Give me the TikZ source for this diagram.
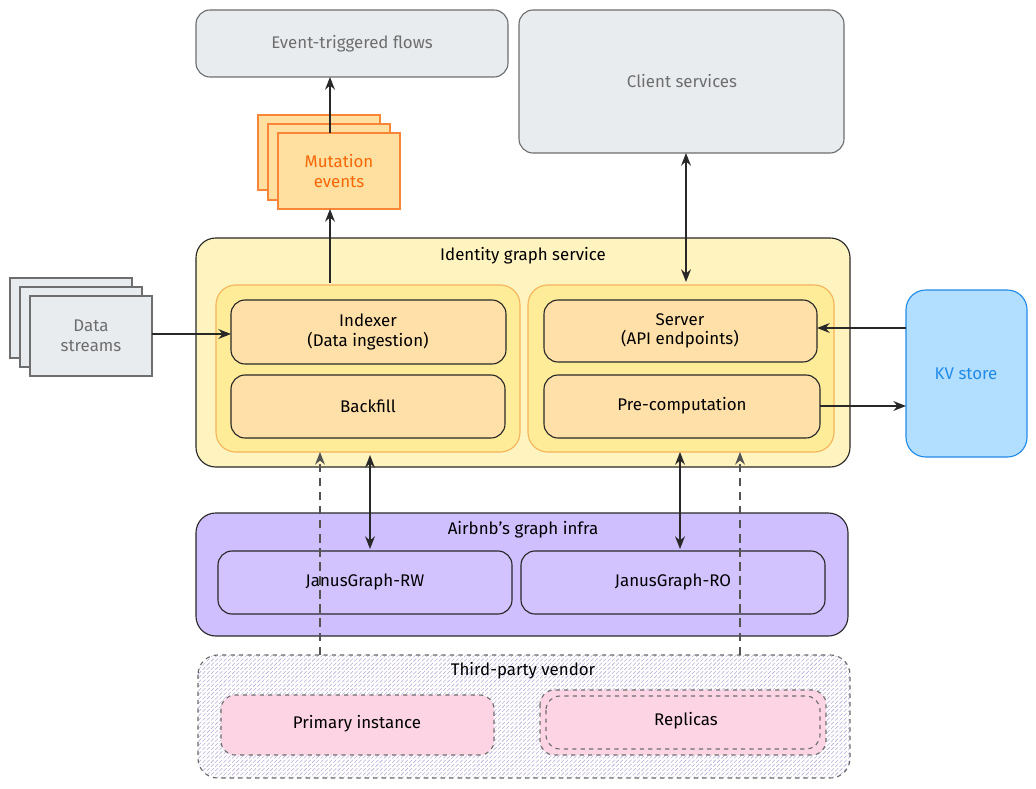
\documentclass[tikz,border=0pt]{standalone}
\usepackage{fontspec}
\setmainfont{Fira Sans}
\usetikzlibrary{positioning, patterns, arrows.meta}
\definecolor{boxgray}{RGB}{233,236,239}
\definecolor{textgray}{RGB}{110,110,110}
\definecolor{mutfill}{RGB}{255,224,160}
\definecolor{mutdraw}{RGB}{247,103,7}
\definecolor{svcfill}{RGB}{255,243,191}
\definecolor{grpfill}{RGB}{255,236,153}
\definecolor{grpdraw}{RGB}{245,180,90}
\definecolor{compfill}{RGB}{255,224,168}
\definecolor{kvfill}{RGB}{178,222,255}
\definecolor{kvdraw}{RGB}{34,139,230}
\definecolor{infrafill}{RGB}{208,191,255}
\definecolor{janfill}{RGB}{210,195,255}
\definecolor{vendfill}{RGB}{252,194,215}
\definecolor{darkline}{RGB}{40,40,40}
\begin{document}
\begin{tikzpicture}[
    x=0.025cm, y=-0.025cm,
    font=\large,
    gray box/.style={draw=textgray, fill=boxgray, thick, rounded corners=10pt, text=textgray},
    paper/.style={draw=textgray, fill=boxgray, thick},
    mutpaper/.style={draw=mutdraw!80, fill=mutfill, thick},
    service/.style={draw=darkline, fill=svcfill, thick, rounded corners=14pt},
    group/.style={draw=grpdraw, fill=grpfill, thick, rounded corners=14pt},
    comp/.style={draw=darkline, fill=compfill, thick, rounded corners=10pt, align=center},
    infra/.style={draw=darkline, fill=infrafill, thick, rounded corners=14pt},
    janus/.style={draw=darkline, fill=janfill, thick, rounded corners=10pt},
    vendor/.style={draw=darkline!70, dashed, thick, rounded corners=14pt, pattern=north east lines, pattern color=infrafill!70!gray},
    inst/.style={draw=textgray, dashed, fill=vendfill!70, thick, rounded corners=10pt},
    arrow/.style={-{Stealth[length=9pt,width=7pt]}, semithick, line width=1pt, darkline},
    both/.style={{Stealth[length=9pt,width=7pt]}-{Stealth[length=9pt,width=7pt]}, line width=1pt, darkline},
    dasharrow/.style={-{Stealth[length=9pt,width=7pt]}, line width=0.8pt, dash pattern=on 6pt off 4pt, darkline!80}
]
    \useasboundingbox (0,0) rectangle (1036,788);

    % Top boxes
    \draw[gray box] (196,10) rectangle (508,77);
    \node[text=textgray] (event) at (352,44) {Event-triggered flows};
    \coordinate (eventb) at (330,77);
    \draw[gray box] (519,10) rectangle (844,153);
    \node[text=textgray] (client) at (682,81) {Client services};
    \coordinate (clientb) at (686,153);

    % Mutation events
    \draw[mutpaper] (258,115) rectangle (380,190);
    \draw[mutpaper] (268,124) rectangle (390,200);
    \draw[mutpaper] (278,133) rectangle (400,209);
    \node[text=mutdraw, align=center] (mut) at (339,171) {Mutation\\events};
    \coordinate (mutt) at (330,133);
    \coordinate (mutb) at (330,209);

    % Data streams
    \draw[paper] (10,278) rectangle (132,358);
    \draw[paper] (20,287) rectangle (142,367);
    \draw[paper] (30,296) rectangle (152,376);
    \node[text=textgray, align=center] (data) at (91,336) {Data\\streams};
    \coordinate (datar) at (152,334);

    % Identity graph service
    \draw[service] (196,238) rectangle (850,467);
    \node (svc) at (523,256) {Identity graph service};
    \coordinate (svct) at (330,283);
    \draw[group] (216,285) rectangle (520,452);
    \draw[group] (528,285) rectangle (834,452);
    \draw[comp] (231,300) rectangle (506,364);
    \node[align=center] (indexer) at (368,332) {Indexer\\(Data ingestion)};
    \draw[comp] (231,375) rectangle (505,438);
    \node (backfill) at (368,406) {Backfill};
    \draw[comp] (544,300) rectangle (817,362);
    \node[align=center] (server) at (680,331) {Server\\(API endpoints)};
    \draw[comp] (544,375) rectangle (820,438);
    \node (precomp) at (682,406) {Pre-computation};
    \coordinate (indexl) at (231,334);
    \coordinate (servr) at (817,328);
    \coordinate (servt) at (686,282);
    \coordinate (precr) at (820,406);
    \coordinate (leftb) at (370,455);
    \coordinate (rightb) at (680,452);
    \coordinate (dashl) at (320,452);
    \coordinate (dashr) at (740,452);

    % KV store
    \draw[draw=kvdraw, fill=kvfill, thick, rounded corners=14pt] (906,290) rectangle (1027,457);
    \node[text=kvdraw] (kv) at (966,374) {KV store};
    \coordinate (kvt) at (906,328);
    \coordinate (kvb) at (906,406);

    % Graph infra
    \draw[infra] (196,513) rectangle (848,636);
    \node (infra) at (523,530) {Airbnb's graph infra};
    \draw[janus] (218,551) rectangle (512,614);
    \node (rw) at (365,582) {JanusGraph-RW};
    \draw[janus] (521,551) rectangle (825,614);
    \node (ro) at (673,582) {JanusGraph-RO};
    \coordinate (rwt) at (370,549);
    \coordinate (rot) at (680,549);

    % Third-party vendor
    \draw[vendor] (198,655) rectangle (850,778);
    \node (vendor) at (523,671) {Third-party vendor};
    \draw[inst] (221,695) rectangle (494,755);
    \node (primary) at (357,724) {Primary instance};
    \draw[inst] (540,690) rectangle (826,755);
    \draw[textgray, dashed, thick, rounded corners=10pt] (546,696) rectangle (820,749);
    \node (replicas) at (686,721) {Replicas};
    \coordinate (vendl) at (320,655);
    \coordinate (vendr) at (740,655);

    % Connectors
    \draw[arrow] (mutt) -- (eventb);
    \draw[arrow] (svct) -- (mutb);
    \draw[both] (clientb) -- (servt);
    \draw[arrow] (datar) -- (indexl);
    \draw[arrow] (kvt) -- (servr);
    \draw[arrow] (precr) -- (kvb);
    \draw[both] (leftb) -- (rwt);
    \draw[both] (rightb) -- (rot);
    \draw[dasharrow] (vendl) -- (dashl);
    \draw[dasharrow] (vendr) -- (dashr);
\end{tikzpicture}
\end{document}
